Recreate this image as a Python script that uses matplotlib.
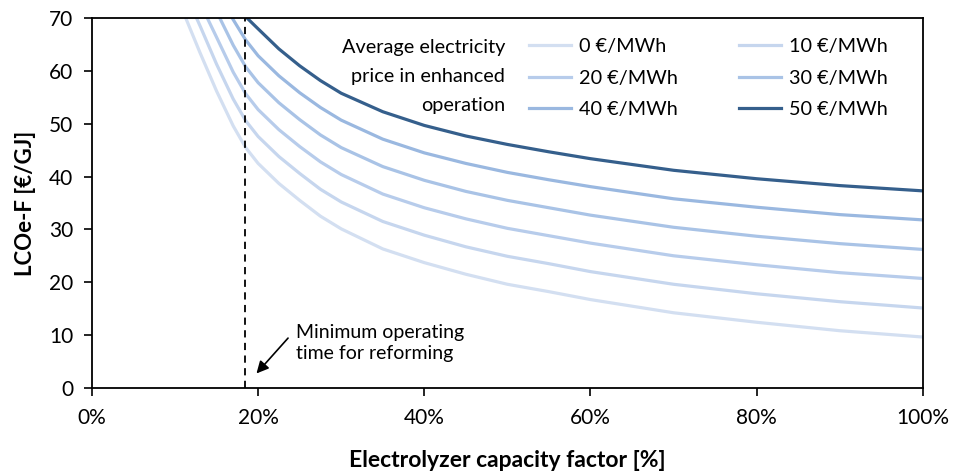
import numpy as np
import matplotlib
matplotlib.use("Agg")
import matplotlib.pyplot as plt

plt.rcParams["font.family"] = ["Lato", "DejaVu Sans"]

# electricity price levels (EUR/MWh) and line colours
prices = [0, 10, 20, 30, 40, 50]
colors = ["#d3dff1", "#c6d6ee", "#b7cceb", "#a9c3e6", "#9ab8e0", "#355f8c"]

# capacity factor grid [%] shared by all curves from 20 % upwards
cf_grid = [20, 22.5, 25, 27.5, 30, 35, 40, 45, 50, 55, 60, 70, 80, 90, 100]

# steep part of each curve (from where it enters the plot at 70 EUR/GJ)
cf_head_0 = [11.3, 13.0, 15.0, 17.0, 18.5]
lc_head_0 = [70.0, 63.5, 56.2, 49.6, 45.5]
cf_head_10 = [12.6, 13.0, 15.0, 17.0, 18.5]
lc_head_10 = [70.0, 68.6, 61.3, 54.7, 50.6]
cf_head_20 = [13.9, 15.0, 17.0, 18.5]
lc_head_20 = [70.0, 66.4, 59.8, 55.7]
cf_head_30 = [15.4, 17.0, 18.5]
lc_head_30 = [70.0, 64.9, 60.8]
cf_head_40 = [16.9, 18.5]
lc_head_40 = [70.0, 65.9]
cf_head_50 = [18.7]
lc_head_50 = [70.0]

# LCOe-F [EUR/GJ] on cf_grid
lc_0 = [42.5, 38.7, 35.5, 32.5, 30.1, 26.3, 23.7, 21.5, 19.6, 18.2, 16.7, 14.2, 12.4, 10.8, 9.6]
lc_10 = [47.6, 43.8, 40.6, 37.6, 35.2, 31.5, 28.9, 26.7, 24.9, 23.5, 22.0, 19.6, 17.8, 16.3, 15.1]
lc_20 = [52.7, 48.9, 45.7, 42.8, 40.4, 36.7, 34.1, 32.0, 30.2, 28.8, 27.4, 25.0, 23.3, 21.8, 20.7]
lc_30 = [57.8, 54.0, 50.8, 47.9, 45.5, 41.9, 39.3, 37.2, 35.5, 34.1, 32.7, 30.4, 28.7, 27.3, 26.2]
lc_40 = [62.9, 59.1, 55.9, 53.1, 50.7, 47.1, 44.5, 42.5, 40.8, 39.4, 38.1, 35.8, 34.2, 32.8, 31.8]
lc_50 = [68.0, 64.2, 61.0, 58.2, 55.8, 52.3, 49.7, 47.7, 46.1, 44.7, 43.4, 41.2, 39.6, 38.3, 37.3]

heads = [(cf_head_0, lc_head_0), (cf_head_10, lc_head_10), (cf_head_20, lc_head_20),
         (cf_head_30, lc_head_30), (cf_head_40, lc_head_40), (cf_head_50, lc_head_50)]
tails = [lc_0, lc_10, lc_20, lc_30, lc_40, lc_50]

min_reforming_cf = 18.4

fig = plt.figure(figsize=(9.55, 4.72), dpi=100)
ax = fig.add_axes([0.0963, 0.1786, 0.870, 0.7826])

lines = []
for p, (hx, hy), ty, c in zip(prices, heads, tails, colors):
    ln, = ax.plot(hx + cf_grid, hy + ty, color=c, lw=2.3,
                  solid_joinstyle="round", label=f"{p} €/MWh")
    lines.append(ln)

# minimum operating time for the reformer
ax.axvline(min_reforming_cf, color="black", lw=1.3, ls=(0, (4, 3)))
ax.text(24.6, 8.4, "Minimum operating\ntime for reforming", fontsize=14,
        va="center", ha="left", linespacing=1.3)
ax.annotate("", xy=(19.8, 2.7), xytext=(23.6, 9.4),
            arrowprops=dict(arrowstyle="-|>", color="black", lw=1.2,
                            shrinkA=0, shrinkB=0, mutation_scale=18))

ax.set_xlim(0, 100)
ax.set_ylim(0, 70)
ax.set_xticks(np.arange(0, 101, 20))
ax.set_xticklabels([f"{v}%" for v in range(0, 101, 20)])
ax.set_yticks(np.arange(0, 71, 10))
ax.tick_params(direction="out", length=5.5, width=1.2, labelsize=15,
               colors="black")
ax.tick_params(axis="y", pad=8)
ax.tick_params(axis="x", pad=9)
for s in ax.spines.values():
    s.set_linewidth(1.3)

ax.set_xlabel("Electrolyzer capacity factor [%]", fontsize=16.5,
              fontweight="bold", labelpad=16)
ax.set_ylabel("LCOe-F [€/GJ]", fontsize=16, fontweight="bold", labelpad=9)

# legend: two columns, filled row by row
order = [0, 2, 4, 1, 3, 5]
leg = ax.legend([lines[i] for i in order], [lines[i].get_label() for i in order],
                ncol=2, loc="upper left", bbox_to_anchor=(0.5117, 0.978),
                frameon=False, fontsize=14.3, handlelength=2.1,
                handletextpad=0.4, columnspacing=3.1, labelspacing=0.73,
                borderaxespad=0.2)
for h in leg.get_lines():
    h.set_linewidth(2.3)
ax.text(0.497, 0.9447, "Average electricity\nprice in enhanced\noperation",
        transform=ax.transAxes, ha="right", va="top", fontsize=14.3,
        linespacing=1.88)

fig.savefig("out.png", dpi=100)
